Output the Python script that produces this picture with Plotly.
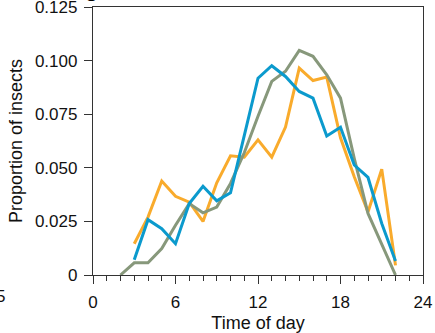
import plotly.graph_objects as go

hours_orange = [3, 4, 5, 6, 7, 8, 9, 10, 11, 12, 13, 14, 15, 16, 17, 18, 19, 20, 21, 22]
orange = [0.0146, 0.027, 0.0438, 0.0367, 0.034, 0.025, 0.043, 0.0556, 0.0549, 0.063, 0.055,
          0.069, 0.0965, 0.0907, 0.0923, 0.064, 0.0458, 0.0294, 0.0494, 0.0045]

hours_blue = [3, 4, 5, 6, 7, 8, 9, 10, 11, 12, 13, 14, 15, 16, 17, 18, 19, 20, 21, 22]
blue = [0.0071, 0.0258, 0.0216, 0.0146, 0.0333, 0.0414, 0.0346, 0.0383, 0.065, 0.0918, 0.0976,
        0.0926, 0.0856, 0.0825, 0.0648, 0.0689, 0.0513, 0.0455, 0.024, 0.0065]

hours_green = [2, 3, 4, 5, 6, 7, 8, 9, 10, 11, 12, 13, 14, 15, 16, 17, 18, 19, 20, 21, 22]
green = [0.0, 0.0057, 0.0057, 0.0123, 0.0232, 0.0333, 0.029, 0.0317, 0.0427, 0.057, 0.074, 0.0903,
         0.095, 0.1048, 0.102, 0.0934, 0.0825, 0.0544, 0.0287, 0.0146, 0.0]

x_tickvals = [0, 6, 12, 18, 24]
x_ticktext = ["0", "6", "12", "18", "24"]
y_tickvals = [0, 0.025, 0.05, 0.075, 0.1, 0.125]
y_ticktext = ["0", "0.025", "0.050", "0.075", "0.100", "0.125"]

FONT = "Liberation Sans, Arial, sans-serif"

fig = go.Figure()
fig.add_trace(go.Scatter(x=hours_orange, y=orange, mode="lines",
                         line=dict(color="#F9AB2C", width=3), showlegend=False))
fig.add_trace(go.Scatter(x=hours_green, y=green, mode="lines",
                         line=dict(color="#87987B", width=3), showlegend=False))
fig.add_trace(go.Scatter(x=hours_blue, y=blue, mode="lines",
                         line=dict(color="#0B9ACD", width=3), showlegend=False))

axis_common = dict(showline=True, mirror=True, linecolor="#333333", linewidth=1.3,
                   ticks="outside", tickcolor="#333333", tickwidth=1.3, ticklen=8,
                   showgrid=False, zeroline=False, automargin=False,
                   ticklabeloverflow="allow",
                   tickfont=dict(family=FONT, size=17, color="#111111"))

fig.update_xaxes(range=[0, 24], tickvals=x_tickvals, ticktext=x_ticktext,
                 minor=dict(dtick=1, tick0=0, ticks="outside", ticklen=5, tickcolor="#333333", tickwidth=1.3),
                 ticklabelstandoff=3,
                 title=dict(text="Time of day", standoff=11,
                            font=dict(family=FONT, size=18, color="#111111")),
                 **axis_common)
fig.update_yaxes(range=[0, 0.125], tickvals=y_tickvals, ticktext=y_ticktext,
                 ticklabelstandoff=3,
                 title=dict(text="Proportion of insects", standoff=7,
                            font=dict(family=FONT, size=18, color="#111111")),
                 **axis_common)

fig.add_annotation(text="5", xref="paper", yref="paper", x=-0.262, y=-0.082,
                   xanchor="right", yanchor="middle", showarrow=False,
                   font=dict(family=FONT, size=17, color="#111111"))
fig.add_annotation(text="<b>g</b>", xref="paper", yref="paper", x=-0.005, y=1.0,
                   xanchor="center", yanchor="bottom", yshift=4, showarrow=False,
                   font=dict(family=FONT, size=22, color="#000000"))

fig.update_layout(width=435, height=333, margin=dict(l=93, r=12, t=7, b=58),
                  paper_bgcolor="white", plot_bgcolor="white")

fig.write_html("out.html", config={"displayModeBar": False},
               post_script="document.body.style.margin='0px';")
